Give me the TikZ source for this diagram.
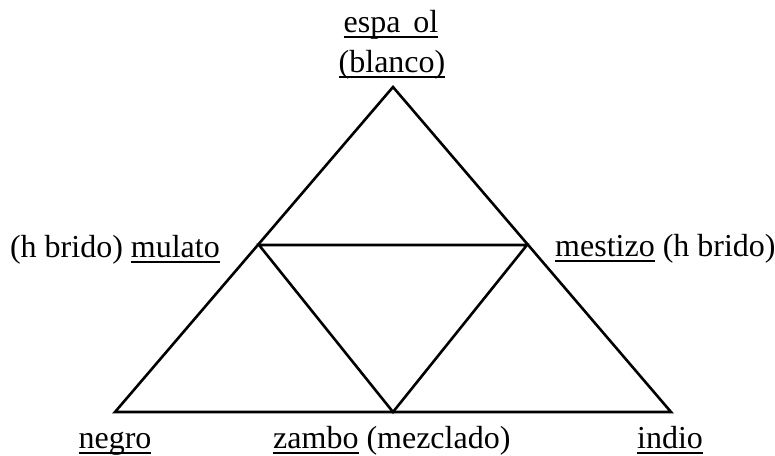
\documentclass[tikz,border=0pt]{standalone}
\usepackage{fontspec}
\setmainfont{Liberation Serif}
\newcommand\myul[1]{\leavevmode\setbox0\hbox{#1}\rlap{\rule[-5.5pt]{\wd0}{1.2pt}}\box0\relax}
\begin{document}
\begin{tikzpicture}[x=1pt,y=-1pt,
  edge/.style={line width=2.6pt,line join=miter},
  lbl/.style={inner sep=0pt,font=\fontsize{32}{36}\selectfont}]
\useasboundingbox (0,0) rectangle (775,455);
\coordinate (A) at (393,87);
\coordinate (B) at (115,412);
\coordinate (C) at (671,412);
\coordinate (L) at (259,245);
\coordinate (R) at (527,245);
\coordinate (M) at (393,412);
\draw[edge] (A) -- (B) -- (C) -- cycle;
\draw[edge] (L) -- (R) -- (M) -- cycle;
\node[lbl,anchor=base] (t1) at (391,32) {\myul{espa\hspace{0.4em}ol}};
\node[lbl,anchor=base] (t2) at (392,72) {\myul{(blanco)}};
\node[lbl,anchor=base east] (ml) at (220,257) {(h brido) \myul{mulato}};
\node[lbl,anchor=base west] (ms) at (555,256) {\myul{mestizo} (h brido)};
\node[lbl,anchor=base] (ng) at (115,448) {\myul{negro}};
\node[lbl,anchor=base west] (zb) at (273,448) {\myul{zambo} (mezclado)};
\node[lbl,anchor=base] (in) at (670,448) {\myul{indio}};
\end{tikzpicture}
\end{document}
